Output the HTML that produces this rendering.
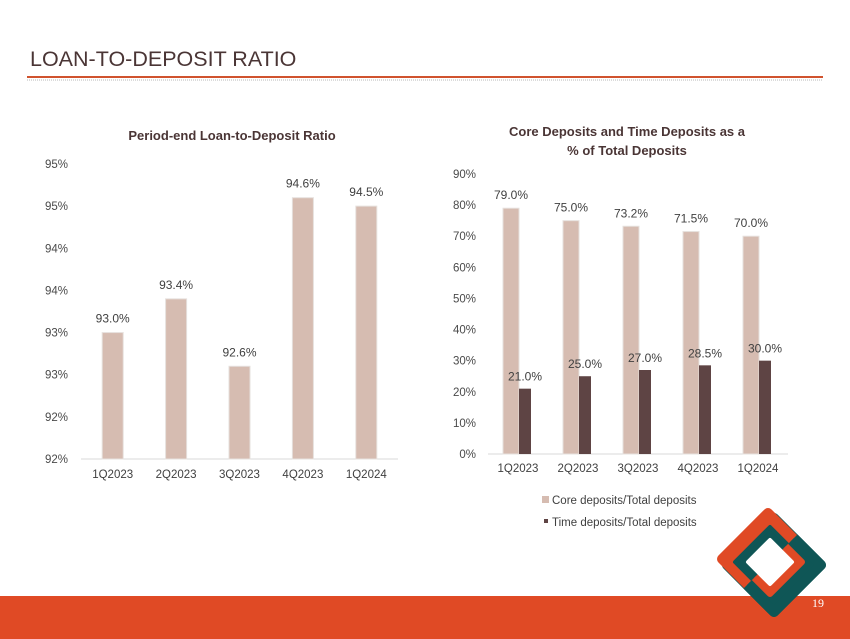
<!DOCTYPE html>
<html><head><meta charset="utf-8">
<style>
body{margin:0;width:850px;height:639px;overflow:hidden;background:#fff;font-family:"Liberation Sans",sans-serif;}
svg{display:block}
</style></head>
<body>
<svg id="s" width="850" height="639" xmlns="http://www.w3.org/2000/svg">
  <defs>
    <clipPath id="ul"><polygon points="600,400 900,400 600,700 "/></clipPath>
    <clipPath id="ul2"><polygon points="0,0 1332,0 0,1332"/></clipPath>
    <clipPath id="lr2"><polygon points="1332,0 1400,0 1400,1400 0,1400 0,1332"/></clipPath>
  </defs>
  <text x="30" y="66" font-size="21.5" fill="#4a3535">LOAN-TO-DEPOSIT RATIO</text>
  <line x1="27" y1="77" x2="823" y2="77" stroke="#d0532e" stroke-width="2"/>
  <line x1="27" y1="80" x2="823" y2="80" stroke="#cfcfcf" stroke-width="1.5" stroke-dasharray="1,1"/>
  <text x="232" y="140" font-size="13" font-weight="bold" fill="#4a3535" text-anchor="middle">Period-end Loan-to-Deposit Ratio</text>
  <text x="627" y="136" font-size="13" font-weight="bold" fill="#4a3535" text-anchor="middle">Core Deposits and Time Deposits as a</text>
  <text x="627" y="155" font-size="13" font-weight="bold" fill="#4a3535" text-anchor="middle">% of Total Deposits</text>
  <g id="left"></g>
  <g id="right"></g>
  <rect x="0" y="596" width="850" height="43" fill="#e04a25"/>
  <g stroke-linejoin="round" stroke-width="10">
    <!-- teal outer -->
    <polygon points="774,518 821,565 774,612 727,565" fill="#0f5656" stroke="#0f5656"/>
    <!-- orange outer -->
    <polygon points="768,513 814,559 768,605 722,559" fill="#e04a25" stroke="#e04a25"/>
    <!-- teal band upper-left -->
    <polygon points="770,527 805,562 770,597 735,562" fill="#0f5656" stroke="#0f5656" stroke-width="4" clip-path="url(#ul2)"/>
    <!-- teal lower-right area -->
    <polygon points="774,518 821,565 774,612 727,565" fill="#0f5656" stroke="#0f5656" clip-path="url(#lr2)"/>
    <!-- orange band lower-right -->
    <polygon points="770,530 802,562 770,594 738,562" fill="#e04a25" stroke="#e04a25" stroke-width="6" clip-path="url(#lr2)"/>
    <!-- hole -->
    <polygon points="770,540 792,562 770,584 748,562" fill="#fff" stroke="#fff" stroke-width="4"/>
  </g>
  <text x="812" y="607" font-size="12" fill="#fff" font-family="Liberation Serif,serif">19</text>
</svg>
<script>
const NS='http://www.w3.org/2000/svg';
const leftCats=['1Q2023','2Q2023','3Q2023','4Q2023','1Q2024'];
const leftVals=[93.0,93.4,92.6,94.6,94.5];
const leftLabels=['93.0%','93.4%','92.6%','94.6%','94.5%'];
const leftTicks=[91.5,92.0,92.5,93.0,93.5,94.0,94.5,95.0];
const leftTickLabels=['92%','92%','93%','93%','94%','94%','95%','95%'];
const rightCats=['1Q2023','2Q2023','3Q2023','4Q2023','1Q2024'];
const coreVals=[79.0,75.0,73.2,71.5,70.0];
const timeVals=[21.0,25.0,27.0,28.5,30.0];
const rightTicks=[0,10,20,30,40,50,60,70,80,90];
function mk(p,tag,a,txt){const e=document.createElementNS(NS,tag);for(const k in a)e.setAttribute(k,a[k]);if(txt!=null)e.textContent=txt;p.appendChild(e);return e;}
// left
const L=document.getElementById('left');
const ly=v=>459-(v-91.5)/(95.0-91.5)*295;
const lx0=81,lx1=398,lw=(lx1-lx0)/leftCats.length;
leftTicks.forEach((t,i)=>{const e=mk(L,'text',{x:68,y:ly(t)+4,'font-size':11.5,fill:'#4a4a4a','text-anchor':'end'},leftTickLabels[i]);

});
mk(L,'line',{x1:lx0,y1:459,x2:lx1,y2:459,stroke:'#d9d9d9','stroke-width':1});
leftCats.forEach((c,i)=>{const cx=lx0+lw*(i+0.5);
 const b=mk(L,'rect',{x:cx-10.5,y:ly(leftVals[i]),width:21,height:459-ly(leftVals[i]),fill:'#d6bcb1',stroke:'#e6e0dd','stroke-width':1});
 
 
 const t=mk(L,'text',{x:cx,y:ly(leftVals[i])-10,'font-size':12,fill:'#404040','text-anchor':'middle'},leftLabels[i]);
 
 
 const x=mk(L,'text',{x:cx,y:478,'font-size':11.5,fill:'#404040','text-anchor':'middle'},c);
 
 });
// right
const R=document.getElementById('right');
const ry=v=>454-v/90*280;
const rx0=488,rx1=788,rw=(rx1-rx0)/rightCats.length;
rightTicks.forEach(t=>{const e=mk(R,'text',{x:476,y:ry(t)+4,'font-size':11.5,fill:'#4a4a4a','text-anchor':'end'},t+'%');

});
mk(R,'line',{x1:rx0,y1:454,x2:rx1,y2:454,stroke:'#d9d9d9','stroke-width':1});
rightCats.forEach((c,i)=>{const cx=rx0+rw*(i+0.5);
 const b=mk(R,'rect',{x:cx-15,y:ry(coreVals[i]),width:16,height:454-ry(coreVals[i]),fill:'#d6bcb1',stroke:'#e6e0dd','stroke-width':1});
 
 
 const b2=mk(R,'rect',{x:cx+1,y:ry(timeVals[i]),width:12,height:454-ry(timeVals[i]),fill:'#5e4444'});
 
 
 const t=mk(R,'text',{x:cx-7,y:ry(coreVals[i])-9,'font-size':12,fill:'#404040','text-anchor':'middle'},coreVals[i].toFixed(1)+'%');
 
 
 const t2=mk(R,'text',{x:cx+7,y:ry(timeVals[i])-8,'font-size':12,fill:'#404040','text-anchor':'middle'},timeVals[i].toFixed(1)+'%');
 
 
 const x=mk(R,'text',{x:cx,y:472,'font-size':11.5,fill:'#404040','text-anchor':'middle'},c);
 
 });
const lg1=mk(R,'g',{});


mk(lg1,'rect',{x:542,y:496,width:7,height:7,fill:'#d6bcb1'});
mk(lg1,'text',{x:552,y:504,'font-size':11.5,fill:'#404040'},'Core deposits/Total deposits');
const lg2=mk(R,'g',{});


mk(lg2,'rect',{x:544,y:519,width:4,height:4,fill:'#5e4444'});
mk(lg2,'text',{x:552,y:526,'font-size':11.5,fill:'#404040'},'Time deposits/Total deposits');
</script>
</body></html>
